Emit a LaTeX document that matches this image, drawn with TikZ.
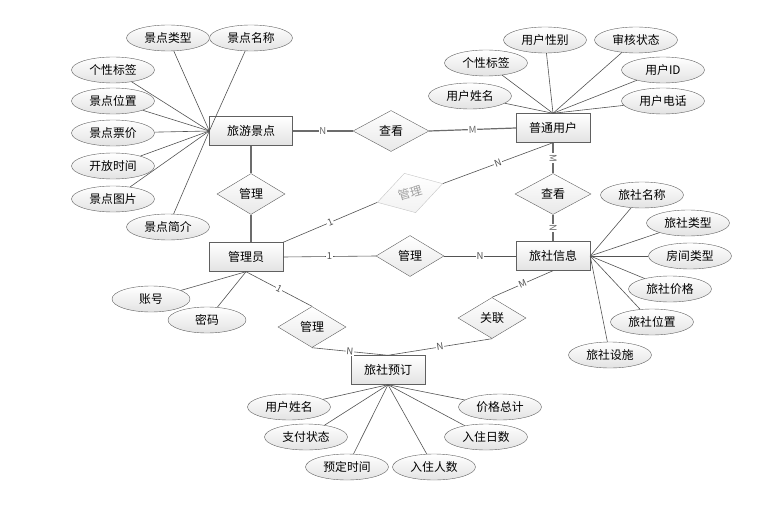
\documentclass[tikz,border=0pt]{standalone}
\usepackage{fontspec}
\setmainfont{Noto Sans CJK SC}
\usetikzlibrary{shapes.geometric}

\begin{document}
\begin{tikzpicture}[x=1pt, y=-1pt,
    entity/.style={draw=gray!75!black, top color=white, bottom color=gray!22, minimum width=74pt, minimum height=29pt, inner sep=2pt, font=\fontsize{12}{14}\selectfont},
    attr/.style={ellipse, draw=gray!75!black, top color=white, bottom color=gray!22, minimum width=83pt, minimum height=26pt, inner sep=0pt, font=\fontsize{11.8}{13}\selectfont},
    rel/.style={diamond, draw=gray!75!black, top color=white, bottom color=gray!18, minimum width=68pt, minimum height=41pt, inner sep=0pt, font=\fontsize{12}{14}\selectfont},
    link/.style={gray!85!black, line width=1.2pt},
    att/.style={gray!65!black, line width=0.6pt},
    card/.style={fill=white, inner sep=0.8pt, font=\fontsize{9.5}{11}\selectfont, sloped}]
\useasboundingbox (0,0) rectangle (759,505);

% entities
\node[entity, minimum width=83pt] (spot) at (251,131) {旅游景点};
\node[entity] (user) at (553,128) {普通用户};
\node[entity] (admin) at (246,257) {管理员};
\node[entity] (hotel) at (553,256) {旅社信息};
\node[entity] (booking) at (388,370) {旅社预订};

% relationships
\node[rel, minimum width=76pt] (viewA) at (391,131) {查看};
\node[rel] (mgrA) at (251,194) {管理};
\node[rel, rotate=16, draw=gray!45, bottom color=gray!10, text=gray!75] (mgrB) at (410,193) {管理};
\node[rel] (mgrC) at (410,256) {管理};
\node[rel, minimum width=76pt] (viewB) at (553,194) {查看};
\node[rel] (mgrD) at (312,327) {管理};
\node[rel] (assoc) at (492,318) {关联};

% attributes of spot
\node[attr] (s1) at (168,38) {景点类型};
\node[attr] (s2) at (251,38) {景点名称};
\node[attr] (s3) at (113,70) {个性标签};
\node[attr] (s4) at (113,101) {景点位置};
\node[attr] (s5) at (113,133) {景点票价};
\node[attr] (s6) at (113,166) {开放时间};
\node[attr] (s7) at (113,199) {景点图片};
\node[attr] (s8) at (168,227) {景点简介};
\foreach \a in {s1,s2,s3,s4,s5,s6,s7,s8}
    \draw[att] (\a) -- (spot.west);

% attributes of user
\node[attr] (u1) at (545,40) {用户性别};
\node[attr] (u2) at (636,40) {审核状态};
\node[attr] (u3) at (486,63) {个性标签};
\node[attr] (u4) at (663,70) {用户ID};
\node[attr] (u5) at (470,96) {用户姓名};
\node[attr] (u6) at (663,101) {用户电话};
\foreach \a in {u1,u2,u3,u4,u5,u6}
    \draw[att] (\a) -- (user.north);

% attributes of hotel
\node[attr] (h1) at (642,195) {旅社名称};
\node[attr] (h2) at (688,223) {旅社类型};
\node[attr] (h3) at (690,256) {房间类型};
\node[attr] (h4) at (670,289) {旅社价格};
\node[attr] (h5) at (652,322) {旅社位置};
\node[attr] (h6) at (610,355) {旅社设施};
\foreach \a in {h1,h2,h3,h4,h5,h6}
    \draw[att] (\a) -- (hotel.east);

% attributes of admin
\node[attr, minimum width=78pt] (a1) at (151,299) {账号};
\node[attr, minimum width=78pt] (a2) at (207,320) {密码};
\foreach \a in {a1,a2}
    \draw[att] (\a) -- (admin.south);

% attributes of booking
\node[attr] (b1) at (289,407) {用户姓名};
\node[attr] (b2) at (306,437) {支付状态};
\node[attr] (b3) at (347,467) {预定时间};
\node[attr] (b4) at (434,467) {入住人数};
\node[attr] (b5) at (486,437) {入住日数};
\node[attr] (b6) at (500,407) {价格总计};
\foreach \a in {b1,b2,b3,b4,b5,b6}
    \draw[att] (\a) -- (booking.south);

% relationship lines
\draw[link] (spot.east) -- node[card] {N} (viewA.west);
\draw[link] (viewA.east) -- node[card] {M} (user.west);
\draw[link] (spot.south) -- (mgrA.north);
\draw[link] (mgrA.south) -- (mgrA.south |- admin.north);
\draw[link] (user.south) -- node[card] {M} (viewB.north);
\draw[link] (viewB.south) -- node[card] {N} (hotel.north);
\draw[att] (admin.north east) -- node[card] {1} (mgrB.west);
\draw[att] (mgrB.east) -- node[card] {N} (user.south);
\draw[att] (admin.east) -- node[card] {1} (mgrC.west);
\draw[att] (mgrC.east) -- node[card] {N} (hotel.west);
\draw[att] (admin.south) -- node[card] {1} (mgrD.north);
\draw[att] (mgrD.south) -- node[card] {N} (booking.north);
\draw[att] (hotel.south) -- node[card] {M} (assoc.north);
\draw[att] (assoc.south) -- node[card] {N} (booking.north);
\end{tikzpicture}
\end{document}
